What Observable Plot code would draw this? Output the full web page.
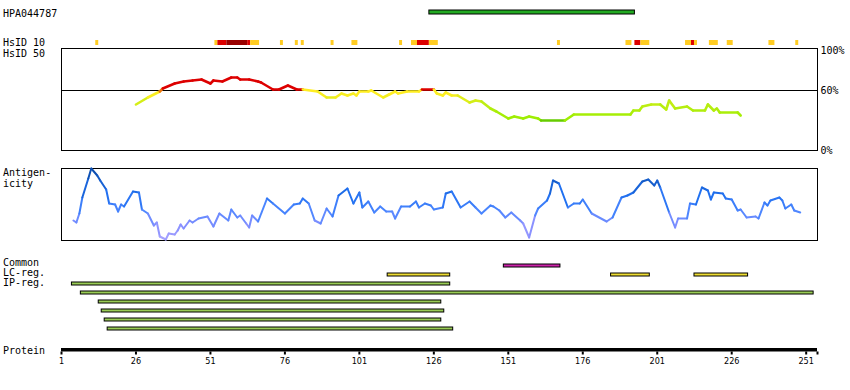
<!DOCTYPE html>
<html><head><meta charset="utf-8">
<script src="https://cdn.jsdelivr.net/npm/d3@7"></script>
<script src="https://cdn.jsdelivr.net/npm/@observablehq/plot@0.6"></script>
<style>
body{margin:0;background:#fff}
#root{position:relative;width:850px;height:390px;overflow:hidden;background:#fff}
.lab{position:absolute;left:3px;font:10px "DejaVu Sans Mono",monospace;color:#000;line-height:10px;white-space:pre}
#root svg{position:absolute;left:0}
</style></head><body><div id="root"></div>
<script>
// ---------- data ----------
const proteinLength = 254.8;
const tickLabels = [1, 26, 51, 76, 101, 126, 151, 176, 201, 226, 251];
const antibodyName = "HPA044787";
const hpaBar = [125, 193];
// HsID 10 runs: [start, end, level] level 1 = >=10%, 2 = higher, 3 = highest
const hsid10Runs = [[13,13,1],[53,53,1],[54,56,2],[57,63,3],[64,64,2],[65,67,1],[75,75,1],[80,80,1],[82,82,1],[92,92,1],[99,100,1],[115,115,1],[119,120,1],[121,124,2],[125,127,1],[168,168,1],[191,192,1],[194,195,2],[196,198,1],[211,212,1],[213,213,2],[214,214,1],[219,221,1],[225,226,1],[239,240,1],[248,248,1]];
const hsid50Res = [26,30,34,35,39,42,45,48,51,52,55,58,60,61,64,67,68,72,74,77,80,82,87,90,93,95,97,99,100,101,104,105,109,111,113,114,117,121,122,126,127,129,130,132,134,138,140,142,145,147,151,153,156,158,161,162,170,173,192,193,195,196,199,202,204,205,207,211,213,217,218,220,221,222,228,229];
const hsid50Val = [46,53,59,62,67,69,70,71,67,70,69,73,73,71,71,69,68,61,61,65,61,61,59,53,53,57,55,57,55,59,59,60,53,56,59,57,59,59,61,61,57,55,58,55,55,48,50,49,42,39,32,34,32,34,32,30,30,36,36,40,40,44,46,46,41,50,42,44,40,40,46,40,42,38,38,35];
const antiRes = [5,6,7,8,10,11,13,14,16,17,19,20,21,22,25,27,28,30,32,33,34,36,37,39,40,41,42,44,45,47,50,52,54,57,58,60,61,63,64,65,67,70,72,76,79,81,82,84,86,88,90,92,94,97,99,101,102,104,106,108,110,112,113,115,118,120,121,123,125,126,129,130,132,135,138,140,142,145,146,148,150,152,155,156,158,160,161,164,165,166,168,171,173,175,176,179,184,186,189,191,193,196,198,200,201,202,205,207,208,211,212,214,216,218,219,220,223,224,226,228,229,231,234,235,237,238,239,242,243,244,246,247,249];
const antiVal = [20,18,27,43,62,72,65,60,51,37,36,29,36,34,49,48,31,27,15,18,4,1,7,6,10,16,12,20,18,22,24,14,27,20,31,23,25,17,13,25,19,42,37,27,36,37,42,37,20,17,32,24,45,52,37,48,33,39,28,34,29,29,22,34,34,39,33,37,35,31,33,47,49,33,39,33,27,35,34,30,23,28,20,17,3,25,32,40,47,60,57,33,37,37,41,27,19,23,43,45,48,59,61,55,60,53,28,13,22,22,37,36,53,50,41,48,47,42,41,30,31,23,24,22,38,35,40,43,40,32,36,30,28];
const commonRegions = [[150,168]];
const lcRegions = [[111,131],[186,198],[214,231]];
const ipRegions = [[5,131],[8,253],[14,128],[15,129],[16,128],[17,132]];

// ---------- layout helpers ----------
const root = document.getElementById("root");
const xDomain = [1, proteinLength];
const base = {width: 850, marginLeft: 61, marginRight: 33, style: {background: "transparent", overflow: "visible"}};
function place(svg, top) { svg.style.top = top + "px"; root.appendChild(svg); }
function label(text, top, left) {
  const d = document.createElement("div"); d.className = "lab"; d.textContent = text;
  d.style.top = top + "px"; if (left != null) d.style.left = left + "px"; root.appendChild(d);
}
const mono = "DejaVu Sans Mono, monospace";

// HPA antigen bar
place(Plot.plot({...base, height: 6, marginTop: 1, marginBottom: 1,
  x: {domain: xDomain, axis: null},
  marks: [Plot.barX([hpaBar], {x1: d => d[0] - 0.5, x2: d => d[1] + 0.5, fill: "#22aa22", stroke: "black", strokeWidth: 1})]
}), 9);

// HsID 10 squares
place(Plot.plot({...base, height: 5, marginTop: 0, marginBottom: 0,
  x: {domain: xDomain, axis: null},
  color: {type: "ordinal", domain: [1, 2, 3], range: ["#ffcc22", "#dd0000", "#990000"]},
  marks: [Plot.barX(hsid10Runs, {x1: d => d[0] - 0.5, x2: d => d[1] + 0.5, fill: d => d[2]})]
}), 40);

// HsID 50 panel
const hsSegs = hsid50Res.slice(1).map((r, i) => ({x1: hsid50Res[i], y1: hsid50Val[i], x2: r, y2: hsid50Val[i + 1], v: (hsid50Val[i] + hsid50Val[i + 1]) / 2}));
place(Plot.plot({...base, height: 110, marginTop: 4, marginBottom: 4,
  x: {domain: xDomain, axis: null},
  y: {domain: [0, 100], range: [106, 6], axis: null},
  color: {type: "linear", domain: [30, 30.6, 45, 57, 60.4, 60.6, 100],
          range: ["#66cc00", "#99ee00", "#bbee11", "#ffee22", "#ffee22", "#dd0000", "#dd0000"], clamp: true},
  marks: [
    Plot.frame({stroke: "black"}),
    Plot.ruleY([60], {stroke: "black"}),
    Plot.link(hsSegs, {x1: "x1", y1: "y1", x2: "x2", y2: "y2", stroke: "v", strokeWidth: 2.6, strokeLinecap: "round"}),
    Plot.axisY([0, 60, 100], {anchor: "right", tickSize: 0, tickPadding: 3, tickFormat: d => d + "%", fontSize: 10, fontFamily: mono})
  ]
}), 44);

// Antigenicity panel
const agSegs = antiRes.slice(1).map((r, i) => ({x1: antiRes[i], y1: antiVal[i], x2: r, y2: antiVal[i + 1], v: (antiVal[i] + antiVal[i + 1]) / 2}));
place(Plot.plot({...base, height: 80, marginTop: 4, marginBottom: 4,
  x: {domain: xDomain, axis: null},
  y: {domain: [0, 72], range: [76, 4], axis: null},
  color: {type: "linear", domain: [0, 15, 30, 45, 72], range: ["#aaa4ff", "#8890ff", "#4c86ff", "#2070f0", "#0a4aa8"], clamp: true},
  marks: [
    Plot.frame({stroke: "black"}),
    Plot.link(agSegs, {x1: "x1", y1: "y1", x2: "x2", y2: "y2", stroke: "v", strokeWidth: 2, strokeLinecap: "round"})
  ]
}), 164);

// Regions (Common, LC-reg., IP-reg.)
const regions = [
  ...commonRegions.map(d => ({row: 0, s: d[0], e: d[1], kind: "common"})),
  ...lcRegions.map(d => ({row: 1, s: d[0], e: d[1], kind: "lc"})),
  ...ipRegions.map((d, i) => ({row: 2 + i, s: d[0], e: d[1], kind: "ip"}))
];
place(Plot.plot({...base, height: 95, marginTop: 0, marginBottom: 0,
  x: {domain: xDomain, axis: null},
  y: {type: "band", domain: d3.range(8), range: [4, 90.8], paddingInner: 0.66, paddingOuter: 0.68, axis: null},
  color: {type: "ordinal", domain: ["common", "lc", "ip"], range: ["#cc22aa", "#eedd33", "#99cc55"]},
  marks: [Plot.barX(regions, {y: "row", x1: d => d.s - 0.5, x2: d => d.e + 0.5, fill: "kind", stroke: "black", strokeWidth: 1})]
}), 250);

// Protein axis
place(Plot.plot({...base, height: 30, marginTop: 4, marginBottom: 22.5,
  x: {domain: xDomain, axis: null},
  marks: [
    Plot.barX([xDomain], {x1: d => d[0], x2: d => d[1], fill: "black"}),
    Plot.axisX(tickLabels, {anchor: "bottom", tickSize: 3, tickPadding: 3, strokeWidth: 2, fontSize: 9, fontFamily: "DejaVu Sans Condensed, sans-serif", tickFormat: d => String(d)}),
    Plot.axisX([proteinLength], {anchor: "bottom", tickSize: 3, strokeWidth: 2, tickFormat: () => ""})
  ]
}), 344);

// Left labels
label(antibodyName, 8.8);
label("HsID 10", 38);
label("HsID 50", 48.8);
label("Antigen-", 168);
label("icity", 178.5);
label("Common", 258);
label("LC-reg.", 268);
label("IP-reg.", 278);
label("Protein", 345.5);
</script></body></html>
